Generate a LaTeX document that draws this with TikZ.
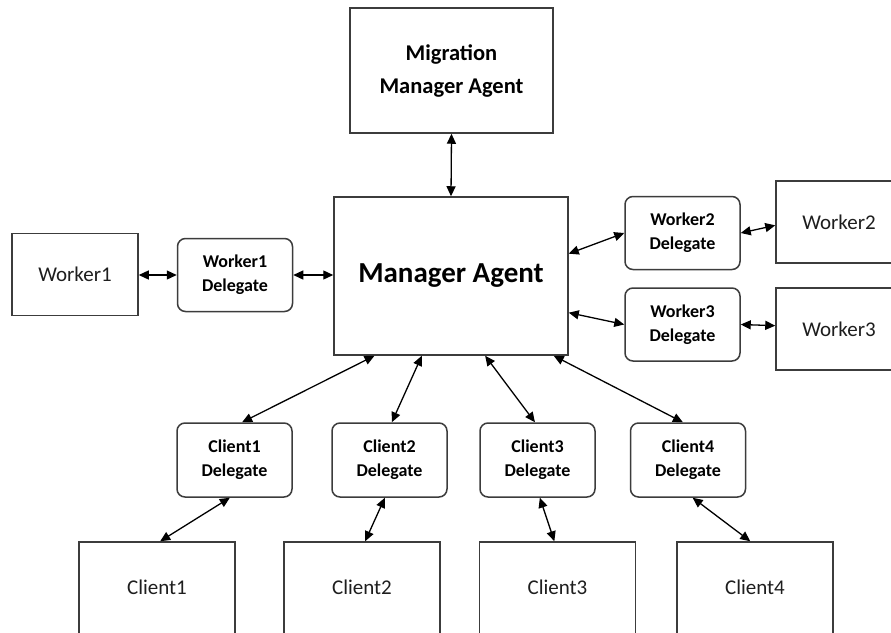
\documentclass[tikz,border=0pt]{standalone}
\usepackage{fontspec}
\setmainfont{Carlito}
\usetikzlibrary{arrows.meta,calc}
\definecolor{boxline}{HTML}{3C3C3C}
\definecolor{txt}{HTML}{1E1E1E}
\tikzset{
  box/.style={draw=boxline, line width=1.5pt, fill=white, inner sep=0pt, align=center},
  sqbox/.style={box, text=txt, font=\fontsize{21}{25}\selectfont},
  delbox/.style={box, rounded corners=8pt, minimum width=115pt, minimum height=73pt,
    font=\bfseries\fontsize{18}{24}\selectfont},
  clbox/.style={sqbox, minimum width=156pt, text height=52pt, text depth=60pt, anchor=base},
  wkbox/.style={sqbox, minimum width=126pt, minimum height=82pt},
  arr/.style={line width=1.3pt, {Triangle[length=10pt,width=9pt]}-{Triangle[length=10pt,width=9pt]}}
}
\begin{document}
\begin{tikzpicture}[x=1pt,y=-1pt]
\useasboundingbox (0,0) rectangle (891,632);
\clip (0,0) rectangle (891,632);
\fill[white] (0,0) rectangle (891,632);

% main boxes
\node[box, minimum width=203pt, minimum height=125pt, font=\bfseries\fontsize{22.5}{33}\selectfont]
  (mig) at (451.5,70.5) {Migration\\Manager Agent};
\node[box, minimum width=234pt, minimum height=158pt, font=\bfseries\fontsize{29}{34}\selectfont]
  (mgr) at (451,276) {Manager Agent};

% workers
\node[wkbox] (w1) at (75,274.5) {Worker1};
\node[delbox] (w1d) at (235,275) {Worker1\\Delegate};
\node[delbox] (w2d) at (682.5,233) {Worker2\\Delegate};
\node[delbox] (w3d) at (682.5,324.5) {Worker3\\Delegate};
\node[wkbox] (w2) at (839,222) {Worker2};
\node[wkbox] (w3) at (839,329) {Worker3};

% client delegates
\node[delbox, minimum height=74pt] (c1d) at (234.5,460) {Client1\\Delegate};
\node[delbox, minimum height=74pt] (c2d) at (389.5,460) {Client2\\Delegate};
\node[delbox, minimum height=74pt] (c3d) at (537.5,460) {Client3\\Delegate};
\node[delbox, minimum height=74pt] (c4d) at (688,460) {Client4\\Delegate};

% clients
\node[clbox] (c1) at (157,594) {Client1};
\node[clbox] (c2) at (362,594) {Client2};
\node[clbox] (c3) at (557.5,594) {Client3};
\node[clbox] (c4) at (755,594) {Client4};

% connectors
\draw[arr] (mig.south) -- (mgr.north);
\draw[arr] (w1.east |- w1d.west) -- (w1d.west);
\draw[arr] (w1d.east) -- (mgr.west |- w1d.east);
\draw[arr] ($(mgr.north east)!0.36!(mgr.south east)$) -- (w2d.west);
\draw[arr] (w2d.east) -- ($(w2.north west)!0.54!(w2.south west)$);
\draw[arr] ($(mgr.north east)!0.73!(mgr.south east)$) -- (w3d.west);
\draw[arr] (w3d.east) -- ($(w3.north west)!0.46!(w3.south west)$);

\draw[arr] ($(mgr.south west)!0.175!(mgr.south east)$) -- ($(c1d.north west)!0.565!(c1d.north east)$);
\draw[arr] ($(mgr.south west)!0.376!(mgr.south east)$) -- ($(c2d.north west)!0.52!(c2d.north east)$);
\draw[arr] ($(mgr.south west)!0.645!(mgr.south east)$) -- ($(c3d.north west)!0.478!(c3d.north east)$);
\draw[arr] ($(mgr.south west)!0.936!(mgr.south east)$) -- ($(c4d.north west)!0.456!(c4d.north east)$);

\draw[arr] ($(c1d.south west)!0.46!(c1d.south east)$) -- ($(c1.north west)!0.52!(c1.north east)$);
\draw[arr] ($(c2d.south west)!0.46!(c2d.south east)$) -- ($(c2.north west)!0.52!(c2.north east)$);
\draw[arr] ($(c3d.south west)!0.52!(c3d.south east)$) -- ($(c3.north west)!0.48!(c3.north east)$);
\draw[arr] ($(c4d.south west)!0.54!(c4d.south east)$) -- ($(c4.north west)!0.47!(c4.north east)$);
\end{tikzpicture}
\end{document}
